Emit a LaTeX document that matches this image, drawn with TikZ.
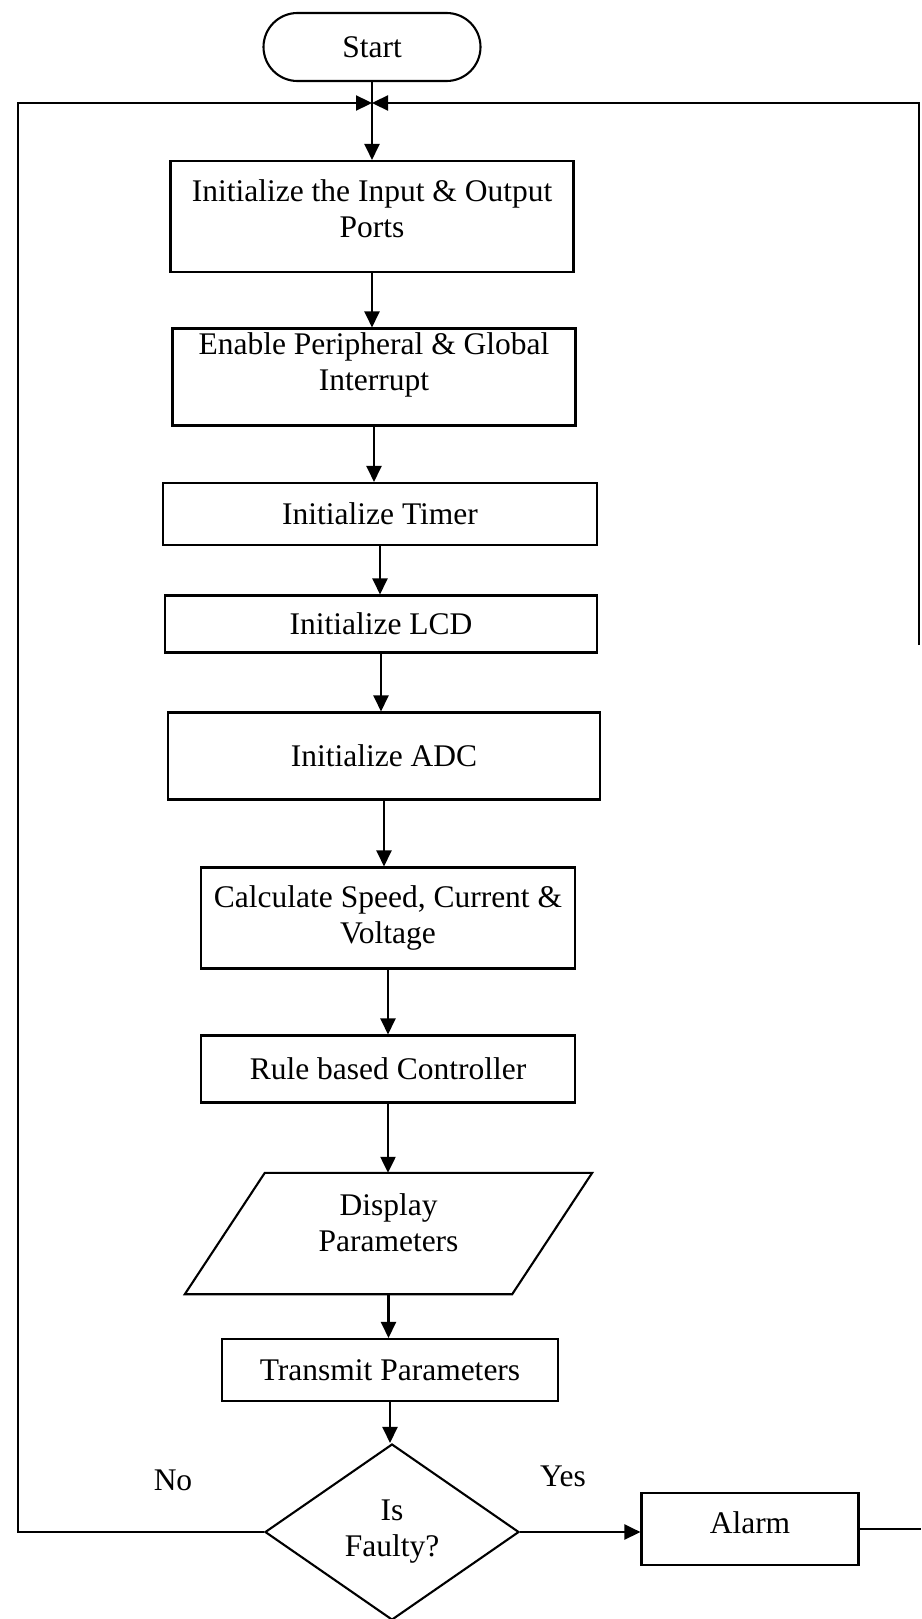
\documentclass[tikz,border=0pt]{standalone}
\usepackage{fontspec}
\setmainfont{Liberation Serif}
\usetikzlibrary{shapes.geometric,arrows.meta}

\begin{document}
\begin{tikzpicture}[x=1pt,y=-1pt,
  every node/.style={font=\fontsize{31.5}{36}\selectfont, align=center},
  line/.style={line width=2.3pt},
  box/.style={draw, line width=2.1pt, inner sep=0pt},
  arr/.style={line, -{Triangle[length=16pt,width=15pt]}},
]
\useasboundingbox (0,0) rectangle (921,1619);
\clip (0,0) rectangle (921,1619);

% process steps (boxes whose text sits high get a separate text node)
\node[box, rounded corners=34pt, minimum width=217pt, minimum height=68pt] (start) at (372,47) {Start};
\node[box, minimum width=403pt, minimum height=111pt] (init) at (372,216.5) {};
\node[yshift=7.5pt] (initT) at (init) {Initialize the Input \& Output\\Ports};
\node[box, minimum width=403pt, minimum height=97pt] (intr) at (374,377) {};
\node[yshift=12pt] (intrT) at (intr) {Enable Peripheral \& Global\\Interrupt};
\node[box, minimum width=434pt, minimum height=62pt] (timer) at (380,514) {Initialize Timer};
\node[box, minimum width=432pt, minimum height=57pt] (lcd) at (381,624) {Initialize LCD};
\node[box, minimum width=432pt, minimum height=87pt] (adc) at (384,756) {Initialize ADC};
\node[box, minimum width=374pt, minimum height=101pt] (calc) at (388,918) {Calculate Speed, Current \&\\Voltage};
\node[box, minimum width=374pt, minimum height=67pt] (rule) at (388,1069) {Rule based Controller};

% input/output step: slanted box drawn around the text node
\node[inner sep=0pt, minimum width=327pt, minimum height=121pt] (disp) at (388.5,1233.5)
      {\raisebox{7pt}[\height][\depth]{\begin{tabular}{@{}c@{}}Display\\Parameters\end{tabular}}};
\draw[line width=2.1pt] ([xshift=40pt]disp.north west) -- ([xshift=40pt]disp.north east)
  -- ([xshift=-40pt]disp.south east) -- ([xshift=-40pt]disp.south west) -- cycle;

\node[box, minimum width=336pt, minimum height=62pt] (tx) at (390,1370) {Transmit Parameters};
\node[box, diamond, minimum width=254pt, minimum height=176pt] (fault) at (392,1532) {Is\\Faulty?};
\node[box, minimum width=217pt, minimum height=72pt] (alarm) at (750,1529) {};
\node[yshift=6pt] (alarmT) at (alarm) {Alarm};
\node (no) at (173,1480) {No};
\node (yes) at (563,1476) {Yes};

% junction where the loops rejoin the main flow
\coordinate (m) at (372,103);
\coordinate (lb) at (18,1532);
\coordinate (lt) at (18,103);
\coordinate (rt) at (919,103);
\coordinate (rb) at (919,645);
\coordinate (re) at (921,1529);

% main flow
\draw[line] (start.south) -- (m);
\draw[arr] (m) -- (init.north);
\draw[arr] (init.south) -- (init.south |- intr.north);
\draw[arr] (intr.south) -- (intr.south |- timer.north);
\draw[arr] (timer.south) -- (timer.south |- lcd.north);
\draw[arr] (lcd.south) -- (lcd.south |- adc.north);
\draw[arr] (adc.south) -- (adc.south |- calc.north);
\draw[arr] (calc.south) -- (calc.south |- rule.north);
\draw[arr] (rule.south) -- (rule.south |- disp.north);
\draw[arr] (disp.south) -- (disp.south |- tx.north);
\draw[arr] (tx.south) -- (tx.south |- fault.north);

% decision branches
\draw[arr] (fault.east) -- (fault.east -| alarm.west);
\draw[arr] (fault.west) -- (lb) -- (lt) -- (m);
\draw[arr] (rb) -- (rt) -- (m);
\draw[line] (alarm.east) -- (re);
\end{tikzpicture}
\end{document}
